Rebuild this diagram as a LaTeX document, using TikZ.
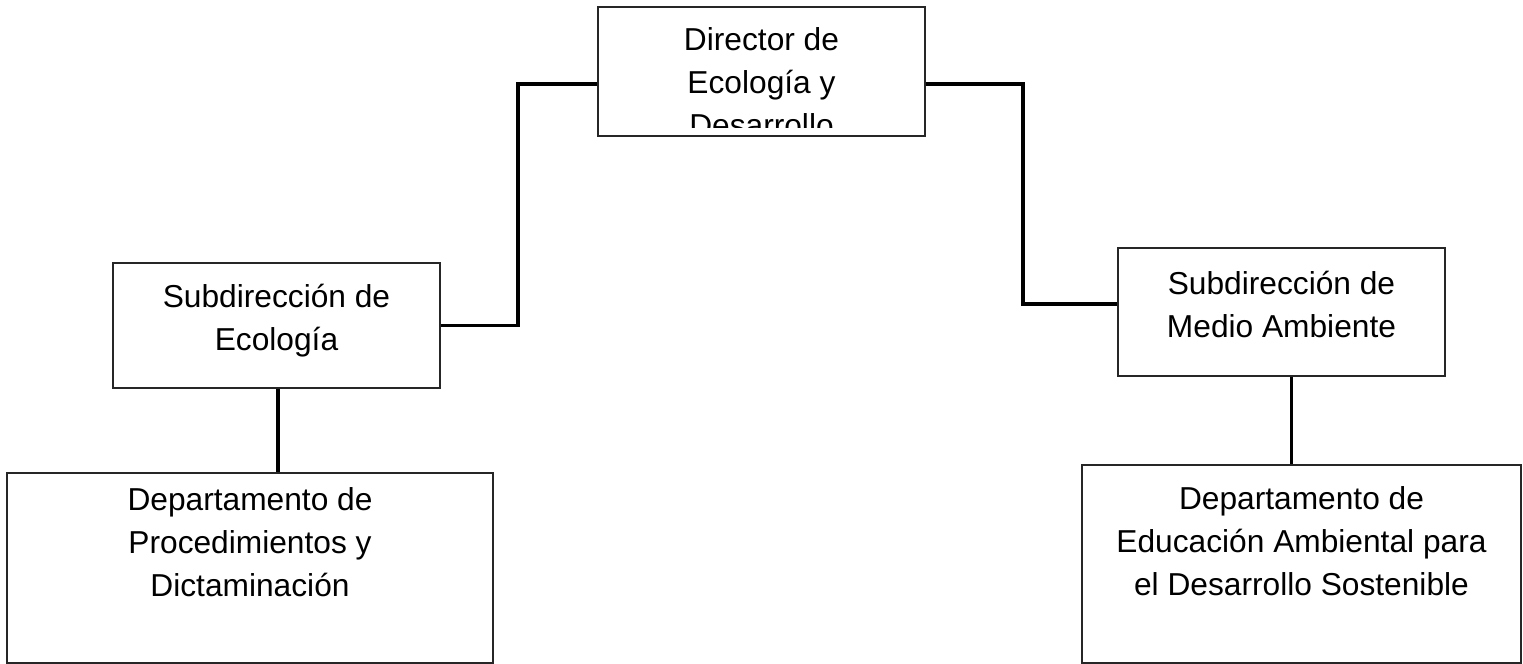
\documentclass[tikz,border=0pt]{standalone}
\usepackage{fontspec}
\setmainfont{Liberation Sans}
\usepackage{tikz}

\begin{document}
\begin{tikzpicture}[
x=0.5pt,y=-0.5pt,
box/.style={%
draw=black!85,
line width=0.8pt,
inner sep=0pt
},
txt/.style={%
align=center,
anchor=north,
inner sep=0pt,
font=\fontsize{15.85}{21.5}\selectfont
},
conn/.style={%
line width=1.9pt
}
]
\useasboundingbox(0,0)rectangle(1523,664);
%% Director
\node[box,minimum width=163.5pt,minimum height=64.5pt]at(761.5,71.5)(director){};
\begin{scope}
\clip([yshift=4.5pt]director.south west)rectangle(director.north east);
\node[txt,yshift=-10.5pt]at(director.north)(directortxt){Director de\\Ecología y\\Desarrollo};
\end{scope}
%% Subdirecciones
\node[box,minimum width=163.5pt,minimum height=62.5pt]at(276.5,325.5)(subeco){};
\node[txt,yshift=-11pt]at(subeco.north)(subecotxt){Subdirección de\\Ecología};
\node[box,minimum width=163.5pt,minimum height=64pt]at(1281.5,312)(submedio){};
\node[txt,yshift=-12pt]at(submedio.north)(submediotxt){Subdirección de\\Medio Ambiente};
%% Departamentos
\node[box,minimum width=243pt,minimum height=95pt]at(250,568)(deptproc){};
\node[txt,yshift=-7.5pt]at(deptproc.north)(deptproctxt){Departamento de\\Procedimientos y\\Dictaminación};
\node[box,minimum width=219.5pt,minimum height=99pt]at(1301.5,564)(depteduc){};
\node[txt,yshift=-11pt]at(depteduc.north)(depteductxt){Departamento de\\Educación Ambiental para\\el Desarrollo Sostenible};
%% Lines
\draw[conn]([yshift=-6.25pt]director.west)--++(-79,0)|-(subeco.east);
\draw[conn]([yshift=-6.25pt]director.east)--++(97,0)|-([yshift=4pt]submedio.west);
\draw[conn]([xshift=0.75pt]subeco.south)--([xshift=0.75pt]subeco.south|-deptproc.north);
\draw[conn]([xshift=5pt]submedio.south)--([xshift=5pt]submedio.south|-depteduc.north);
\end{tikzpicture}
\end{document}
